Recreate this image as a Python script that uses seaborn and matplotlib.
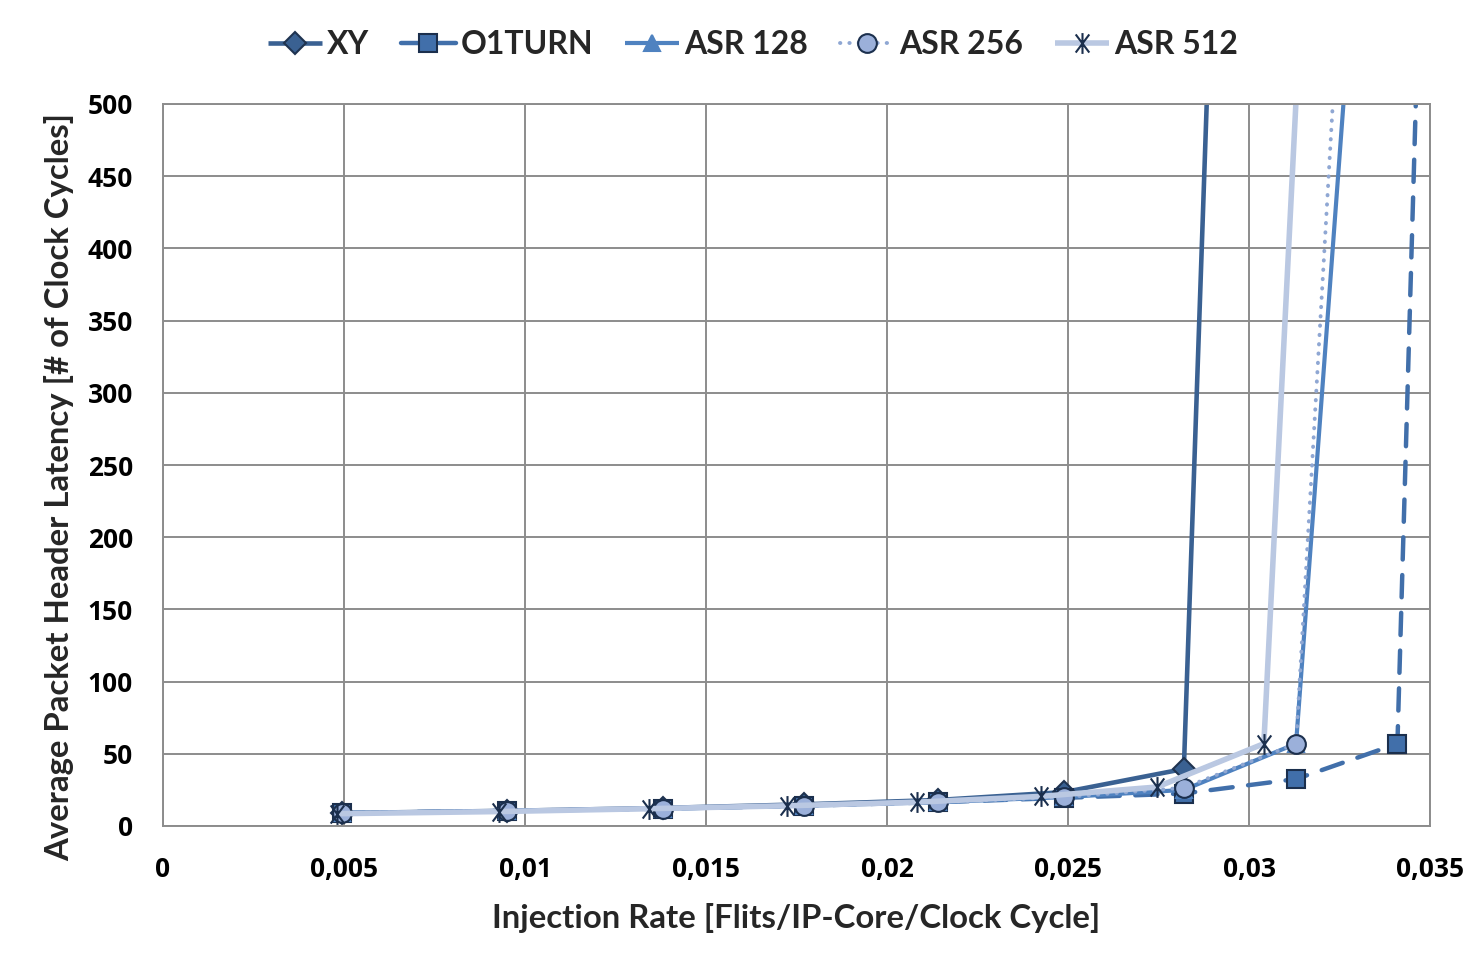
import numpy as np
import pandas as pd
import matplotlib
matplotlib.use("Agg")
import matplotlib.pyplot as plt
import seaborn as sns
from matplotlib.path import Path
from matplotlib.ticker import MultipleLocator, FuncFormatter

# ---- data ----
x_common = [0.00495, 0.0095, 0.0138, 0.0177, 0.0214, 0.0249, 0.0282, 0.0313, 0.0341]
x_xy = [0.00495, 0.0095, 0.0138, 0.0177, 0.0214, 0.0249, 0.0282, 0.0313]
y_xy = [9, 10.5, 12.5, 15, 18, 23.5, 39.5, 2300]
x_o1turn = [0.00495, 0.0095, 0.0138, 0.0177, 0.0214, 0.0249, 0.0282, 0.0313, 0.0341, 0.0370]
y_o1turn = [9, 10.5, 12, 14, 16.5, 19.5, 22.5, 32.5, 57, 2590]
y_asr128 = [9, 10.5, 12, 14, 16.5, 20, 25, 57, 1005]
y_asr256 = [9, 10.5, 12, 14, 16.5, 20, 26.5, 57, 1280]
x_asr512 = [0.0048, 0.00928, 0.01343, 0.01724, 0.02083, 0.02425, 0.02746, 0.03041, 0.0337]
y_asr512 = [8.5, 10, 12, 14, 16.5, 20.5, 27, 57, 1705]

series_names = ["XY", "O1TURN", "ASR 128", "ASR 256", "ASR 512"]
x_ticks = [0, 0.005, 0.01, 0.015, 0.02, 0.025, 0.03, 0.035]
y_ticks = [0, 50, 100, 150, 200, 250, 300, 350, 400, 450, 500]

sns.set_theme(style="white")
plt.rcParams["font.family"] = ["DejaVu Sans"]

fig = plt.figure(figsize=(14.76, 9.56), dpi=100)
ax = fig.add_axes([163/1476, 1-826/956, (1430-163)/1476, (826-104)/956])

# custom Excel-like star marker: X + vertical line
star = Path([(-0.75, -1), (0.75, 1), (-0.75, 1), (0.75, -1), (0, -1.15), (0, 1.15)],
            [Path.MOVETO, Path.LINETO, Path.MOVETO, Path.LINETO, Path.MOVETO, Path.LINETO])

styles = {
    "XY": dict(x=x_xy, y=y_xy, color="#3A6192", lw=3.3, ls="-", marker="D", ms=11,
               mfc="#3A6192", mec="#1F3350"),
    "O1TURN": dict(x=x_o1turn, y=y_o1turn, color="#416FAA", lw=3.2, ls=(0, (5, 3.5)), marker="s", ms=12.5,
                   mfc="#416FAA", mec="#1B2F4D"),
    "ASR 128": dict(x=x_common, y=y_asr128, color="#4F82C0", lw=3.0, ls="-", marker="^", ms=11,
                    mfc="#4F82C0", mec="#4F82C0"),
    "ASR 256": dict(x=x_common, y=y_asr256, color="#8FA7D3", lw=2.8, ls=(0, (0.1, 2.3)), marker="o", ms=13.5,
                    mfc="#9BB0DA", mec="#1B2F4D"),
    "ASR 512": dict(x=x_asr512, y=y_asr512, color="#BAC8E2", lw=4.0, ls="-", marker=star, ms=15,
                    mfc="none", mec="#1B2F4D"),
}

for name in series_names:
    s = styles[name]
    df = pd.DataFrame({"x": s["x"], "y": s["y"]})
    sns.lineplot(data=df, x="x", y="y", ax=ax, sort=False, estimator=None, label=name,
                 color=s["color"], linewidth=s["lw"], linestyle=s["ls"],
                 marker=s["marker"], markersize=s["ms"], markerfacecolor=s["mfc"],
                 markeredgecolor=s["mec"], markeredgewidth=1.5,
                 dash_capstyle="round", solid_capstyle="butt", clip_on=True)

ax.set_xlim(0, 0.035)
ax.set_ylim(0, 500)
ax.set_xticks(x_ticks)
ax.set_yticks(y_ticks)
ax.xaxis.set_minor_locator(MultipleLocator(0.001))
ax.yaxis.set_minor_locator(MultipleLocator(10))

def xfmt(v, pos):
    if abs(v) < 1e-12:
        return "0"
    return ("%.3f" % v).rstrip("0").replace(".", ",")
ax.xaxis.set_major_formatter(FuncFormatter(xfmt))

gridc = "#8C8C8C"
ax.grid(True, which="major", color=gridc, linewidth=1.4)
for sp in ax.spines.values():
    sp.set_color(gridc)
    sp.set_linewidth(1.4)
ax.tick_params(axis="both", which="major", direction="out", length=7.5, width=1.3, color=gridc,
               labelsize=19)
ax.tick_params(axis="both", which="minor", direction="out", length=5, width=1.1, color=gridc)
ax.tick_params(axis="y", which="major", pad=14)
ax.tick_params(axis="x", which="major", pad=14)
for lab in ax.get_xticklabels() + ax.get_yticklabels():
    lab.set_fontweight("bold")
    lab.set_family(["Open Sans", "DejaVu Sans"])
    lab.set_color("black")

ax.set_xlabel("Injection Rate [Flits/IP-Core/Clock Cycle]", fontsize=23.7, fontweight="bold",
              family=["Lato", "DejaVu Sans"])
ax.set_ylabel("Average Packet Header Latency [# of Clock Cycles]", fontsize=23.7, fontweight="bold",
              family=["Lato", "DejaVu Sans"])
ax.xaxis.set_label_coords(0.4996, (826-903)/722)
ax.yaxis.set_label_coords((74-163)/1267, (826-487)/722)

leg = ax.legend(loc="center", bbox_to_anchor=(0.4655, 1 + (104-45)/722), ncol=5, frameon=False,
                prop={"family": "Lato", "weight": "bold", "size": 23},
                handlelength=1.7, columnspacing=1.0, handletextpad=0.15, borderaxespad=0)

fig.savefig("out.png", dpi=100, facecolor="white")
